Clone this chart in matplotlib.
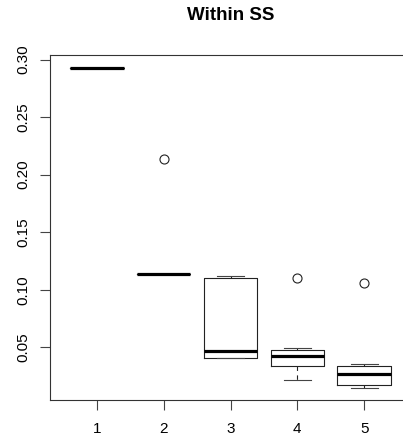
import numpy as np
import matplotlib
matplotlib.use('Agg')
import matplotlib.pyplot as plt

plt.rcParams['font.family'] = ['Liberation Sans', 'DejaVu Sans']

# box statistics, groups 1..5
groups = [1, 2, 3, 4, 5]
whislo = [0.293, 0.114, 0.0404, 0.0216, 0.0149]
q1 = [0.293, 0.114, 0.0404, 0.0340, 0.0175]
med = [0.293, 0.114, 0.0468, 0.0427, 0.0265]
q3 = [0.293, 0.114, 0.1100, 0.0477, 0.0340]
whishi = [0.293, 0.114, 0.1123, 0.0497, 0.0357]
fliers = [[], [0.2135], [], [0.1100], [0.1062]]

stats = []
for i in range(len(groups)):
    stats.append(dict(label=str(groups[i]), whislo=whislo[i], q1=q1[i], med=med[i],
                      q3=q3[i], whishi=whishi[i], fliers=fliers[i]))

fig = plt.figure(figsize=(4.03, 4.41), dpi=100)
ax = fig.add_axes((50 / 403, 1 - 400 / 441, 361 / 403, 345 / 441))

ax.bxp(stats, positions=groups, widths=0.8,
       boxprops=dict(color='#222222', lw=0.8),
       medianprops=dict(color='k', lw=2.3, solid_capstyle='butt'),
       whiskerprops=dict(color='#222222', lw=0.8, linestyle=(0, (4, 4))),
       capprops=dict(color='#444444', lw=0.8),
       capwidths=0.4,
       flierprops=dict(marker='o', markerfacecolor='none', markeredgecolor='#222222',
                       markersize=6.5, markeredgewidth=0.8))

ax.set_xlim(0.3, 5.7)
ax.set_ylim(0.0042, 0.304)
ax.set_xticks(groups)
ax.set_xticklabels([str(g) for g in groups])
ax.set_yticks([0.05, 0.10, 0.15, 0.20, 0.25, 0.30])
ax.set_yticklabels(['0.05', '0.10', '0.15', '0.20', '0.25', '0.30'], rotation=90, va='center')
ax.tick_params(length=7, width=0.8, labelsize=11, color='#444444', pad=7)
ax.tick_params(axis='x', pad=9)
for s in ax.spines.values():
    s.set_linewidth(0.8)
    s.set_color('#333333')
ax.spines['right'].set_visible(False)  # cut off in the original

fig.text(231 / 403, 1 - 16 / 441, 'Within SS', ha='center', va='center',
         fontsize=13.5, fontweight='bold')

fig.savefig('out.png', dpi=100)
